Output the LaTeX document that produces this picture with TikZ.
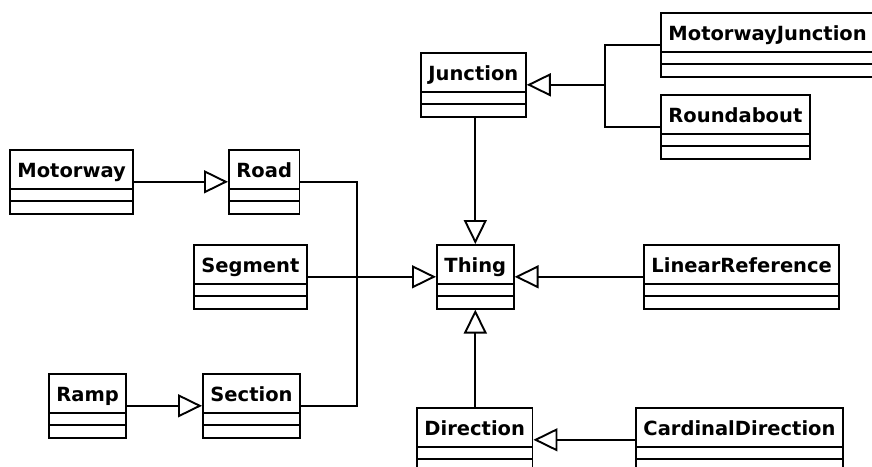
\documentclass[tikz,border=0pt]{standalone}
\usepackage{fontspec}
\newfontfamily\umlfont{DejaVu Sans}
\usepackage{tikz}
\usetikzlibrary{shapes,arrows.meta}
\tikzstyle{umlclass} = [rectangle split, rectangle split parts=3, draw, line width=1.9pt, inner xsep=7.5pt, inner ysep=2pt, rectangle split empty part height=6.5pt, rectangle split empty part depth=0pt, font=\umlfont\bfseries\fontsize{19.5}{19.5}\selectfont, execute at begin node={\rule[-8pt]{0pt}{33pt}}, anchor=north west]
\tikzstyle{wire} = [draw, line width=1.9pt]
\tikzstyle{line} = [wire, -{Triangle[open, length=24pt, width=23pt]}]

\begin{document}
\begin{tikzpicture}[x=1pt, y=-1pt]
    \useasboundingbox (0,0) rectangle (872,466);
    \clip (0,0) rectangle (872,466);
    \node [umlclass] (motorway) at (9,149) {Motorway};
    \node [umlclass] (road) at (228,149) {Road};
    \node [umlclass] (junction) at (420,52) {Junction};
    \node [umlclass] (mjunction) at (660,12) {MotorwayJunction};
    \node [umlclass] (roundabout) at (660,94) {Roundabout};
    \node [umlclass] (segment) at (193,244) {Segment};
    \node [umlclass] (thing) at (436,244) {Thing};
    \node [umlclass] (linref) at (643,244) {LinearReference};
    \node [umlclass] (ramp) at (48,373) {Ramp};
    \node [umlclass] (section) at (202,373) {Section};
    \node [umlclass] (direction) at (416,407) {Direction};
    \node [umlclass] (carddir) at (635,407) {CardinalDirection};
    \coordinate (fork) at (junction.east -| 605,0);
    \coordinate (bus) at (segment.east -| 357,0);
    \path [line] (motorway) -- (road);
    \path [line] (ramp) -- (section);
    \path [wire] (road.east) -| (bus);
    \path [wire] (section.east) -| (bus);
    \path [line] (segment) -- (thing);
    \path [line] (linref) -- (thing);
    \path [wire] (mjunction.west) -| (fork);
    \path [wire] (roundabout.west) -| (fork);
    \path [line] (fork) -- (junction.east);
    \path [line] (thing.north |- junction.south) -- (thing.north);
    \path [line] (thing.south |- direction.north) -- (thing.south);
    \path [line] (carddir) -- (direction);
  \end{tikzpicture}
\end{document}
